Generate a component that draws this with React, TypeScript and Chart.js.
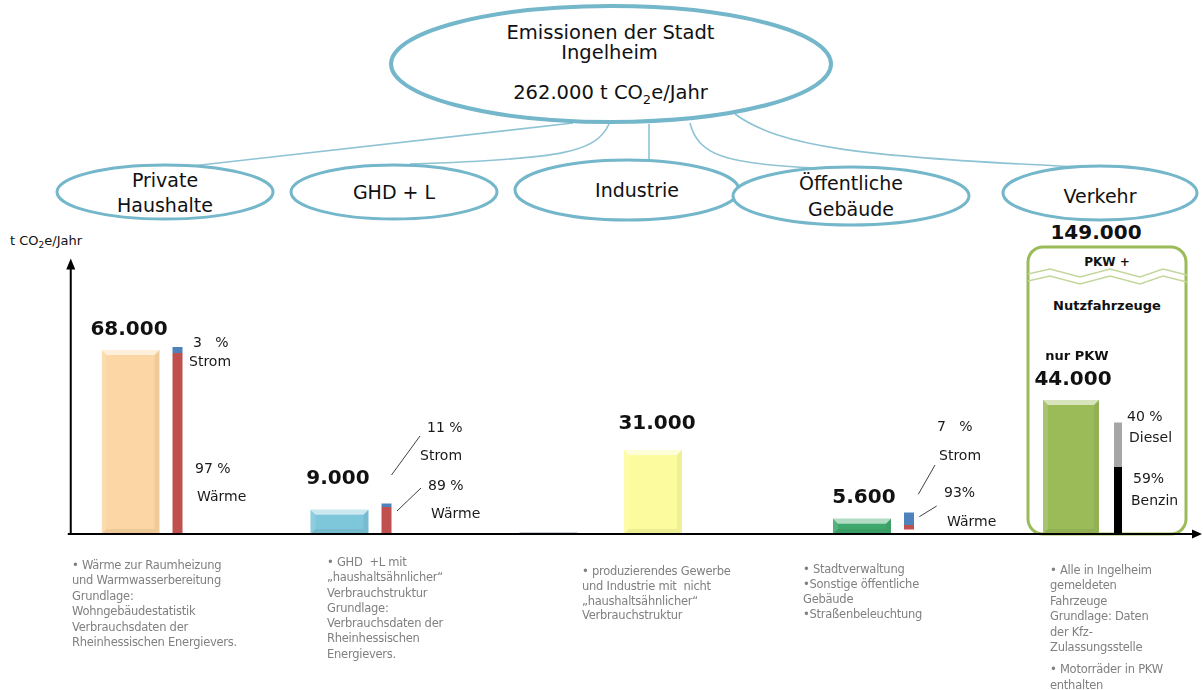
import React, { useEffect, useRef } from "react";
import { Chart, registerables } from "chart.js";

Chart.register(...registerables);

// ---------------- data ----------------
const categories = [
  "Private Haushalte",
  "(leer 1)",
  "GHD + L",
  "(leer 2)",
  "(leer 3)",
  "Industrie",
  "(leer 4)",
  "Öffentliche Gebäude",
  "(leer 5)",
  "Verkehr",
];
// t CO2e / Jahr
const emissions = [68000, null, 9000, 300, 500, 31000, 300, 5600, null, null];
// split bars (t, as drawn)
const waermeT = [66900, null, 10000, null, null, null, null, 1600, null, null];
const stromT = [2200, null, 1300, null, null, null, null, 4600, null, null];
const splitStartT = [0, null, 0, null, null, null, null, 1700, null, null];
const pkwT = [null, null, null, null, null, null, null, null, null, 44000];
const benzinT = [null, null, null, null, null, null, null, null, null, 22000];
const dieselT = [null, null, null, null, null, null, null, null, null, 14600];

const stromPct = ["3   %", "", "11 %", "", "", "", "", "7   %", "", ""];
const waermePct = ["97 %", "", "89 %", "", "", "", "", "93%", "", ""];
const dieselPct = ["", "", "", "", "", "", "", "", "", "40 %"];
const benzinPct = ["", "", "", "", "", "", "", "", "", "59%"];

const totalT = 262000;
const verkehrTotalT = 149000;

const sectorNames = [
  ["Private", "Haushalte"],
  ["GHD + L"],
  ["Industrie"],
  ["Öffentliche", "Gebäude"],
  ["Verkehr"],
];

const notes = [
  ["• Wärme zur Raumheizung", "und Warmwasserbereitung", "Grundlage:", "Wohngebäudestatistik", "Verbrauchsdaten der", "Rheinhessischen Energievers."],
  ["• GHD  +L mit", "„haushaltsähnlicher“", "Verbrauchstruktur", "Grundlage:", "Verbrauchsdaten der", "Rheinhessischen", "Energievers."],
  ["• produzierendes Gewerbe", "und Industrie mit  nicht", "„haushaltsähnlicher“", "Verbrauchstruktur"],
  ["• Stadtverwaltung", "•Sonstige öffentliche", "Gebäude", "•Straßenbeleuchtung"],
  ["• Alle in Ingelheim", "gemeldeten", "Fahrzeuge", "Grundlage: Daten", "der Kfz-", "Zulassungsstelle"],
];
const notesExtra = ["• Motorräder in PKW", "enthalten"];

// ---------------- styles ----------------
const FONT = "'DejaVu Sans', Tahoma, sans-serif";
const mainColors = ["#FCD6A4", "#ffffff", "#7EC6DA", "#ECECEC", "#1F3864", "#FCFC9E", "#ECECEC", "#3FA86C", "#ffffff", "#ffffff"];
const pkwColor = "#9BBB59";
const waermeColor = "#C0504D";
const stromColor = "#4F81BD";
const benzinColor = "#000000";
const dieselColor = "#A6A6A6";

const valueLift: Record<number, number> = { 0: 20, 2: 31, 5: 26, 7: 21 };
const valueDx: Record<number, number> = { 0: -1.5, 2: -1.5, 5: 4, 7: 2 };

// label placement next to split bars: [dx, dy from baseline]
const splitLayout: Record<number, any> = {
  0: { top: [15.5, -191], topWord: [11.5, -172], bot: [17.5, -65], botWord: [19.5, -37], lines: [] },
  2: { top: [40.5, -106], topWord: [33.5, -78], bot: [41.5, -48], botWord: [44.5, -20], lines: [[5, -59, 33.5, -98], [10.5, -23, 34.5, -46]] },
  7: { top: [28, -107], topWord: [30, -78], bot: [35, -41], botWord: [38, -12], lines: [[9.3, -39.7, 26, -69], [10.3, -17.3, 27.7, -28]] },
};
const pkwLayout = { top: [9, -117], topWord: [11, -96], bot: [15, -55], botWord: [13, -33] };

const fmt = (n: number) => String(n).replace(/\B(?=(\d{3})+(?!\d))/g, ".");

// ---------------- plugins ----------------
const bevelPlugin = {
  id: "bevel",
  afterDatasetsDraw(chart: any) {
    const ctx = chart.ctx;
    [0, 3].forEach((di) => {
      const meta = chart.getDatasetMeta(di);
      meta.data.forEach((el: any, i: number) => {
        const raw = chart.data.datasets[di].data[i];
        if (raw == null) return;
        const { x, y, base, width } = el.getProps(["x", "y", "base", "width"], true);
        const h = base - y;
        if (h < 8) return;
        const l = x - width / 2, r = x + width / 2, t = y, b = base;
        const s = Math.min(5, h / 3);
        const poly = (pts: number[][], fill: string) => {
          ctx.beginPath();
          ctx.moveTo(pts[0][0], pts[0][1]);
          for (let k = 1; k < pts.length; k++) ctx.lineTo(pts[k][0], pts[k][1]);
          ctx.closePath();
          ctx.fillStyle = fill;
          ctx.fill();
        };
        ctx.save();
        poly([[l, t], [r, t], [r - s, t + s], [l + s, t + s]], "rgba(255,255,255,0.6)");
        poly([[l, t], [l + s, t + s], [l + s, b - s], [l, b]], "rgba(255,255,255,0.12)");
        poly([[r, t], [r, b], [r - s, b - s], [r - s, t + s]], "rgba(0,0,0,0.05)");
        poly([[l, b], [l + s, b - s], [r - s, b - s], [r, b]], "rgba(0,0,0,0.06)");
        ctx.restore();
      });
    });
  },
};

const labelPlugin = {
  id: "labels",
  afterDatasetsDraw(chart: any) {
    const ctx = chart.ctx;
    const baseY = chart.chartArea.bottom;
    ctx.save();
    ctx.fillStyle = "#111111";
    ctx.textAlign = "center";
    ctx.textBaseline = "middle";
    ctx.font = `bold 20px ${FONT}`;
    const mainMeta = chart.getDatasetMeta(0);
    emissions.forEach((v, i) => {
      if (v == null || v < 1000) return;
      const el = mainMeta.data[i];
      ctx.fillText(fmt(v), el.x + (valueDx[i] || 0), el.y - (valueLift[i] ?? 22));
    });
    const pkwMeta = chart.getDatasetMeta(3);
    pkwT.forEach((v, i) => {
      if (v == null) return;
      const el = pkwMeta.data[i];
      ctx.font = `bold 20px ${FONT}`;
      ctx.fillText(fmt(v), el.x + 2, el.y - 20);
      ctx.font = `bold 13px ${FONT}`;
      ctx.fillText("nur PKW", el.x + 6, el.y - 43);
    });

    ctx.font = `14px ${FONT}`;
    ctx.textAlign = "left";
    ctx.fillStyle = "#1a1a1a";
    const splitMeta = chart.getDatasetMeta(1);
    Object.keys(splitLayout).forEach((key) => {
      const i = Number(key);
      const L = splitLayout[i];
      const x = splitMeta.data[i].x;
      ctx.fillText(stromPct[i], x + L.top[0], baseY + L.top[1]);
      ctx.fillText("Strom", x + L.topWord[0], baseY + L.topWord[1]);
      ctx.fillText(waermePct[i], x + L.bot[0], baseY + L.bot[1]);
      ctx.fillText("Wärme", x + L.botWord[0], baseY + L.botWord[1]);
      ctx.strokeStyle = "#404040";
      ctx.lineWidth = 1;
      L.lines.forEach((ln: number[]) => {
        ctx.beginPath();
        ctx.moveTo(x + ln[0], baseY + ln[1]);
        ctx.lineTo(x + ln[2], baseY + ln[3]);
        ctx.stroke();
      });
    });
    const bMeta = chart.getDatasetMeta(4);
    benzinT.forEach((v, i) => {
      if (v == null) return;
      const x = bMeta.data[i].x;
      ctx.fillText(dieselPct[i], x + pkwLayout.top[0], baseY + pkwLayout.top[1]);
      ctx.fillText("Diesel", x + pkwLayout.topWord[0], baseY + pkwLayout.topWord[1]);
      ctx.fillText(benzinPct[i], x + pkwLayout.bot[0], baseY + pkwLayout.bot[1]);
      ctx.fillText("Benzin", x + pkwLayout.botWord[0], baseY + pkwLayout.botWord[1]);
    });
    ctx.restore();
  },
};

const axesPlugin = {
  id: "arrowAxes",
  afterDraw(chart: any) {
    const { ctx, chartArea, width } = chart;
    const ax = chartArea.left - 31;
    const ay = chartArea.bottom;
    ctx.save();
    ctx.strokeStyle = "#000";
    ctx.fillStyle = "#000";
    ctx.lineWidth = 2;
    ctx.beginPath();
    ctx.moveTo(ax, ay);
    ctx.lineTo(ax, chartArea.top + 4);
    ctx.stroke();
    ctx.beginPath();
    ctx.moveTo(ax, chartArea.top - 5);
    ctx.lineTo(ax - 4.5, chartArea.top + 6);
    ctx.lineTo(ax + 4.5, chartArea.top + 6);
    ctx.closePath();
    ctx.fill();
    ctx.beginPath();
    ctx.moveTo(ax - 3, ay);
    ctx.lineTo(width - 8, ay);
    ctx.stroke();
    ctx.beginPath();
    ctx.moveTo(width - 1, ay);
    ctx.lineTo(width - 11, ay - 4.5);
    ctx.lineTo(width - 11, ay + 4.5);
    ctx.closePath();
    ctx.fill();
    ctx.restore();
  },
};

// ---------------- component ----------------
const noteLeft = [72, 327, 582, 803, 1050];
const noteTop = [558, 555, 564, 562, 563];
const noteLH = [15.4, 15.3, 14.8, 15, 15.4];

export default function App() {
  const ref = useRef<HTMLCanvasElement>(null);

  useEffect(() => {
    const lower = waermeT.map((v, i) => (v == null ? null : [splitStartT[i] as number, (splitStartT[i] as number) + v]));
    const upper = stromT.map((v, i) =>
      v == null ? null : [(splitStartT[i] as number) + (waermeT[i] as number), (splitStartT[i] as number) + (waermeT[i] as number) + v]
    );
    const benzin = benzinT.map((v) => (v == null ? null : [0, v]));
    const diesel = dieselT.map((v, i) => (v == null ? null : [benzinT[i] as number, (benzinT[i] as number) + v]));

    const chart = new Chart(ref.current as HTMLCanvasElement, {
      type: "bar",
      data: {
        labels: categories,
        datasets: [
          { label: "Emissionen", data: emissions as any, backgroundColor: mainColors, stack: "main", yAxisID: "y", barPercentage: 1.3, maxBarThickness: 58 } as any,
          { label: "Wärme", data: lower as any, backgroundColor: waermeColor, stack: "side", yAxisID: "y", barPercentage: 0.4, maxBarThickness: 10 } as any,
          { label: "Strom", data: upper as any, backgroundColor: stromColor, stack: "side", yAxisID: "y", barPercentage: 0.4, maxBarThickness: 10 } as any,
          { label: "nur PKW", data: pkwT as any, backgroundColor: pkwColor, stack: "main", yAxisID: "y2", barPercentage: 1.3, maxBarThickness: 56 } as any,
          { label: "Benzin", data: benzin as any, backgroundColor: benzinColor, stack: "side", yAxisID: "y2", barPercentage: 0.4, maxBarThickness: 8 } as any,
          { label: "Diesel", data: diesel as any, backgroundColor: dieselColor, stack: "side", yAxisID: "y2", barPercentage: 0.4, maxBarThickness: 8 } as any,
        ],
      },
      options: {
        responsive: false,
        animation: false,
        layout: { padding: { left: 101.75, right: 56.25, top: 263.4, bottom: 156 } },
        datasets: { bar: { categoryPercentage: 0.9, grouped: true, borderWidth: 0 } } as any,
        plugins: { legend: { display: false }, tooltip: { enabled: false }, title: { display: false } },
        scales: {
          x: { display: false, offset: true, grid: { display: false } },
          y: { display: false, min: 0, max: 100000, stacked: false },
          y2: { display: false, min: 0, max: 88900, stacked: false, position: "right" },
        },
      } as any,
      plugins: [bevelPlugin, labelPlugin, axesPlugin],
    });
    return () => chart.destroy();
  }, []);

  const ell = { fill: "none", stroke: "#74B6CA" };
  const txt = { fontFamily: FONT, fill: "#111" } as any;

  return (
    <div style={{ position: "absolute", left: 0, top: 0, width: 1203, height: 690, background: "#fff", overflow: "hidden", fontFamily: FONT }}>
      <svg width={1203} height={690} style={{ position: "absolute", left: 0, top: 0 }}>
        {/* connectors */}
        <g fill="none" stroke="#8EC3D4" strokeWidth={1.6}>
          <path d="M 573 123 Q 400 142 192 166" />
          <path d="M 609 124 C 596 152 565 159 410 164" />
          <path d="M 649 124 L 649 161" />
          <path d="M 690 123 C 698 155 725 164 815 168" />
          <path d="M 735 114 C 780 147 860 157 1080 167" />
        </g>
        {/* main ellipse */}
        <ellipse cx={611} cy={64} rx={220} ry={58} {...ell} strokeWidth={4} fill="#fff" />
        <text x={610.5} y={39} fontSize={19.5} textAnchor="middle" style={txt}>Emissionen der Stadt</text>
        <text x={609.5} y={59} fontSize={19.5} textAnchor="middle" style={txt}>Ingelheim</text>
        <text x={610.5} y={99} fontSize={19.5} textAnchor="middle" style={txt}>
          {fmt(totalT)} t CO<tspan fontSize={13} dy={5}>2</tspan><tspan dy={-5}>e/Jahr</tspan>
        </text>
        {/* sector ellipses */}
        <ellipse cx={165} cy={192} rx={108} ry={27} {...ell} strokeWidth={3} fill="#fff" />
        <ellipse cx={394} cy={192} rx={103} ry={27} {...ell} strokeWidth={3} fill="#fff" />
        <ellipse cx={627} cy={190} rx={112} ry={30} {...ell} strokeWidth={3} fill="#fff" />
        <ellipse cx={851} cy={196} rx={118} ry={29} {...ell} strokeWidth={3} fill="#fff" />
        <ellipse cx={1100} cy={193} rx={97} ry={27} {...ell} strokeWidth={3} fill="#fff" />
        <text x={165} y={187} fontSize={19} textAnchor="middle" style={txt}>{sectorNames[0][0]}</text>
        <text x={165} y={212} fontSize={19} textAnchor="middle" style={txt}>{sectorNames[0][1]}</text>
        <text x={394} y={199} fontSize={19} textAnchor="middle" style={txt}>{sectorNames[1][0]}</text>
        <text x={637} y={197} fontSize={19} textAnchor="middle" style={txt}>{sectorNames[2][0]}</text>
        <text x={851} y={190} fontSize={19} textAnchor="middle" style={txt}>{sectorNames[3][0]}</text>
        <text x={851} y={216} fontSize={19} textAnchor="middle" style={txt}>{sectorNames[3][1]}</text>
        <text x={1100} y={203} fontSize={19} textAnchor="middle" style={txt}>{sectorNames[4][0]}</text>
        {/* y axis title */}
        <text x={10} y={245} fontSize={13} style={txt}>
          t CO<tspan fontSize={9} dy={3}>2</tspan><tspan dy={-3}>e/Jahr</tspan>
        </text>
        {/* Verkehr box */}
        <text x={1096} y={239} fontSize={20} fontWeight="bold" textAnchor="middle" style={txt}>{fmt(verkehrTotalT)}</text>
        <rect x={1028} y={247} width={158} height={287} rx={15} ry={15} fill="none" stroke="#9BBB59" strokeWidth={3} />
        <g fill="none" stroke="#C3D69B" strokeWidth={1.5}>
          <polyline points="1028,274 1050,269 1080,277 1110,269 1140,277 1163,269 1187,275" />
          <polyline points="1028,281 1050,276 1080,284 1110,276 1140,284 1163,276 1187,282" />
        </g>
        <text x={1107} y={266} fontSize={12} fontWeight="bold" textAnchor="middle" style={txt}>PKW +</text>
        <text x={1107} y={310} fontSize={13} fontWeight="bold" textAnchor="middle" style={txt}>Nutzfahrzeuge</text>
      </svg>
      <canvas ref={ref} width={1203} height={690} style={{ position: "absolute", left: 0, top: 0 }} />
      {notes.map((lines, k) => (
        <div
          key={k}
          style={{
            position: "absolute",
            left: noteLeft[k],
            top: noteTop[k],
            fontSize: 11.5,
            lineHeight: `${noteLH[k]}px`,
            color: "#808080",
            whiteSpace: "pre",
            letterSpacing: "-0.25px",
          }}
        >
          {lines.map((l, j) => (
            <div key={j}>{l}</div>
          ))}
          {k === 4 && (
            <div style={{ marginTop: 7 }}>
              {notesExtra.map((l, j) => (
                <div key={j}>{l}</div>
              ))}
            </div>
          )}
        </div>
      ))}
    </div>
  );
}
